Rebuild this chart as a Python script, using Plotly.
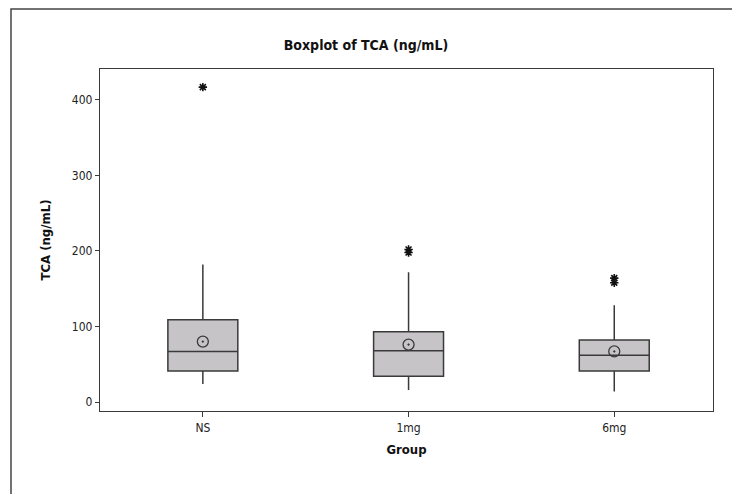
import plotly.graph_objects as go

groups = ["NS", "1mg", "6mg"]
q1 = [41, 34, 41]
median = [67, 68, 62]
q3 = [109, 93, 82]
lower_whisker = [24, 16, 14]
upper_whisker = [182, 172, 128]
means = [80, 76, 67]
outlier_groups = ["NS", "1mg", "1mg", "6mg", "6mg"]
outlier_values = [417, 198, 202, 158, 164]

FONT = "DejaVu Sans Condensed, Liberation Sans, sans-serif"
LINE = "#3a3a3a"

fig = go.Figure()
fig.add_trace(go.Box(
    x=groups, q1=q1, median=median, q3=q3,
    lowerfence=lower_whisker, upperfence=upper_whisker,
    fillcolor="#c6c4c7", line=dict(color=LINE, width=1.5),
    whiskerwidth=0, width=0.34, boxpoints=False, showlegend=False,
))
fig.add_trace(go.Scatter(
    x=groups, y=means, mode="markers",
    marker=dict(symbol="circle-open-dot", size=11, color=LINE, line=dict(width=1.3)),
    showlegend=False,
))
fig.add_trace(go.Scatter(
    x=outlier_groups, y=outlier_values, mode="markers",
    marker=dict(symbol="asterisk-open", size=7, color="#111111", line=dict(width=1.6, color="#111111")),
    showlegend=False,
))

fig.update_layout(
    width=732, height=494,
    margin=dict(l=100, r=19, t=69, b=83),
    paper_bgcolor="white", plot_bgcolor="white",
    font=dict(family=FONT, size=12, color="#222222"),
    title=dict(text="<b>Boxplot of TCA (ng/mL)</b>", x=0.5, xanchor="center",
               y=1 - 45 / 494, yanchor="middle", font=dict(family=FONT, size=14, color="#111111")),
    xaxis=dict(
        type="category", range=[-0.5, 2.48],
        showline=True, linecolor=LINE, linewidth=1.3, mirror=True,
        ticks="outside", ticklen=5, tickcolor=LINE, showgrid=False, zeroline=False,
        title=dict(text="<b>Group</b>", standoff=11, font=dict(family=FONT, size=13, color="#111111")),
        tickfont=dict(family=FONT, size=12),
    ),
    yaxis=dict(
        range=[-11.9, 441],
        tickvals=[0, 100, 200, 300, 400],
        showline=True, linecolor=LINE, linewidth=1.3, mirror=True,
        ticks="outside", ticklen=4, tickcolor=LINE, showgrid=False, zeroline=False,
        title=dict(text="<b>TCA (ng/mL)</b>", standoff=18, font=dict(family=FONT, size=13, color="#111111")),
        tickfont=dict(family=FONT, size=12),
    ),
    shapes=[dict(
        type="rect", xref="paper", yref="paper",
        x0=(11 - 100) / 613, x1=(760 - 100) / 613,
        y0=-0.4, y1=1 + (69 - 9) / 342,
        line=dict(color="#444444", width=1.5), fillcolor="rgba(0,0,0,0)", layer="below",
    )],
)

fig.write_html("out.html")
